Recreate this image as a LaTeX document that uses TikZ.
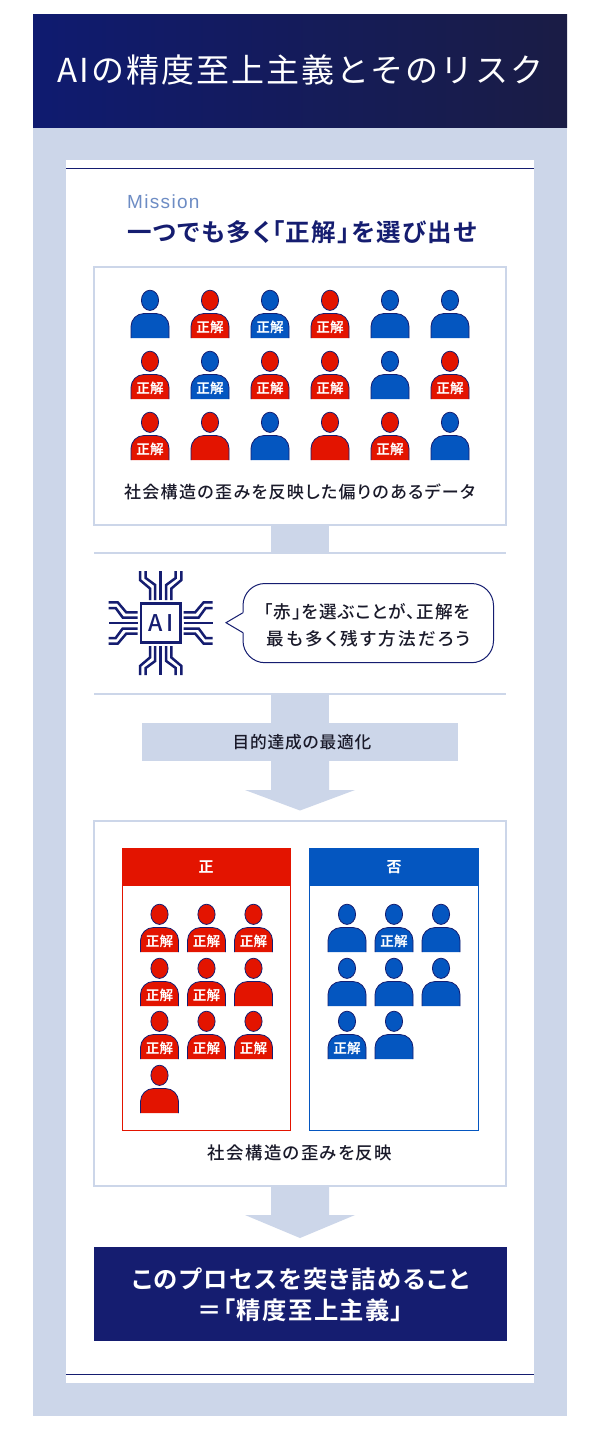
\documentclass[tikz,border=0pt]{standalone}
\usepackage{fontspec}
\setmainfont[BoldFont={Noto Sans CJK JP Bold},RawFeature=+palt]{Noto Sans CJK JP}
\newfontfamily\headf[RawFeature=+palt,LetterSpace=6]{Noto Sans CJK JP Bold}
\newfontfamily\capaf[RawFeature=+palt,LetterSpace=5]{Noto Sans CJK JP Medium}
\newfontfamily\capbf[RawFeature=+palt,LetterSpace=8]{Noto Sans CJK JP Medium}
\newfontfamily\bubf[RawFeature=+palt,LetterSpace=6]{Noto Sans CJK JP Medium}
\newfontfamily\bubwf[RawFeature=+palt,LetterSpace=14]{Noto Sans CJK JP Medium}
\newfontfamily\aif[LetterSpace=14]{Noto Sans CJK JP Medium}
\newfontfamily\latinf[LetterSpace=7]{Liberation Sans}
\newfontfamily\titlef[LetterSpace=6]{Noto Sans CJK JP}
\definecolor{band}{HTML}{CCD6E9}
\definecolor{navy}{HTML}{151D70}
\definecolor{pred}{HTML}{E31400}
\definecolor{pblue}{HTML}{0456C0}
\definecolor{mis}{HTML}{6D8CC4}
\definecolor{ink}{HTML}{1A1A2A}
\definecolor{gradl}{HTML}{0F1B70}
\definecolor{gradr}{HTML}{1A1C45}
\tikzset{x=1pt,y=-1pt,
 panelbox/.style={draw=band,line width=2pt,fill=white},
 capt/.style={text=ink,inner sep=0},
 persontag/.style={font=\fontsize{13.6}{15}\bfseries\selectfont,text=white,inner sep=0},
 trace/.style={draw=navy,line width=2.5pt,line join=miter}}
\newcount\pid
% x, head top y, colour, label
\newcommand\person[4]{%
 \global\advance\pid by 1
 \begin{scope}[shift={(#1,#2)}]
  \draw[navy,line width=.8pt,fill=#3] (0,10.3) ellipse [x radius=8.6,y radius=10.1];
  \fill[#3] (-19,48) -- (-19,36.5) arc[start angle=180,end angle=270,radius=13] -- (6,23.5) arc[start angle=270,end angle=360,radius=13] -- (19,48) -- cycle;
  \draw[navy,line width=.8pt] (-19,48) -- (-19,36.5) arc[start angle=180,end angle=270,radius=13] -- (6,23.5) arc[start angle=270,end angle=360,radius=13] -- (19,48);
  \node[persontag] (tag\the\pid) at (0,37.3) {#4};
 \end{scope}}
\newcommand\ans{正解}
\begin{document}
\begin{tikzpicture}
\useasboundingbox (0,0) rectangle (600,1430);
\fill[white] (0,0) rectangle (600,1430);
% frame
\fill[band] (33,127) rectangle (567,1416);
\shade[left color=gradl,right color=gradr] (33,14) rectangle (567,127);
\node[text=white,inner sep=0,font=\fontsize{33}{36}\selectfont\titlef] (title) at (300.5,70) {AIの精度至上主義とそのリスク};
\fill[white] (66,160) rectangle (534,1383);
\draw[navy,line width=.9pt] (66,168.5) -- (534,168.5);
\draw[navy,line width=.9pt] (66,1374) -- (534,1374);
\node[anchor=west,text=mis,inner sep=0,font=\fontsize{19}{20}\selectfont\latinf] (mission) at (127,202) {Mission};
\node[anchor=west,text=navy,inner sep=0,font=\fontsize{24.5}{26}\selectfont\headf] (head) at (127,232) {一つでも多く「正解」を選び出せ};
% top box
\draw[panelbox] (94,267) rectangle (506,525);
\person{150}{290}{pblue}{}
\person{210}{290}{pred}{\ans}
\person{270}{290}{pblue}{\ans}
\person{330}{290}{pred}{\ans}
\person{390}{290}{pblue}{}
\person{450}{290}{pblue}{}
\person{150}{351}{pred}{\ans}
\person{210}{351}{pblue}{\ans}
\person{270}{351}{pred}{\ans}
\person{330}{351}{pred}{\ans}
\person{390}{351}{pblue}{}
\person{450}{351}{pred}{\ans}
\person{150}{412}{pred}{\ans}
\person{210}{412}{pred}{}
\person{270}{412}{pblue}{}
\person{330}{412}{pred}{}
\person{390}{412}{pred}{\ans}
\person{450}{412}{pblue}{}
\node[capt,font=\fontsize{17}{18}\selectfont\capbf] (cap1) at (299.5,492) {社会構造の歪みを反映した偏りのあるデータ};
% connectors
\fill[band] (271,526) rectangle (329,553);
\draw[band,line width=1.6pt] (94,553) -- (506,553);
\draw[band,line width=1.6pt] (94,694) -- (506,694);
\fill[band] (271,694) rectangle (329,723);
% chip
\draw[navy,line width=2.5pt,fill=white] (141,603.5) rectangle (180.5,642.5);
\node[text=navy,inner sep=0,font=\fontsize{23}{24}\selectfont\aif] (ailabel) at (161,623) {AI};
\foreach \r in {0,90,180,270}{
 \begin{scope}[shift={(160.7,623)},rotate=\r]
  \draw[trace] (0,-23) -- (0,-52);
  \draw[trace] (-5.5,-23) -- (-5.5,-38) -- (-15,-45) -- (-15,-52);
  \draw[trace] (5.5,-23) -- (5.5,-38) -- (15,-45) -- (15,-52);
  \draw[trace] (-10.7,-23) -- (-10.7,-34.5) -- (-20.7,-43) -- (-20.7,-52);
  \draw[trace] (10.7,-23) -- (10.7,-34.5) -- (20.7,-43) -- (20.7,-52);
 \end{scope}}
% bubble
\draw[navy,line width=1pt,fill=white,rounded corners=22pt] (243,612.7) -- (243,583.5) -- (493.5,583.5) -- (493.5,662.7) -- (243,662.7) -- (243,632.7);
\draw[navy,line width=1pt,fill=white,line join=miter] (243,612.7) -- (226,622.7) -- (243,632.7);
\node[capt,font=\fontsize{17.6}{18}\selectfont\bubf] (b1) at (367,612) {「赤」を選ぶことが、正解を};
\node[capt,font=\fontsize{17.6}{18}\selectfont\bubwf] (b2) at (368.5,638.5) {最も多く残す方法だろう};
% goal
\fill[band] (142,723) rectangle (458,761);
\node[capt,font=\fontsize{16.7}{18}\selectfont\capaf] (goal) at (302,742) {目的達成の最適化};
\fill[band] (271,761) -- (329,761) -- (329,790) -- (355,790) -- (300,810.5) -- (245,790) -- (271,790) -- cycle;
% result
\draw[panelbox] (94,821) rectangle (506,1186);
\draw[pred,line width=1pt,fill=white] (122,848.5) rectangle (290.5,1130);
\fill[pred] (122,848.5) rectangle (290.5,886);
\node[persontag,font=\fontsize{15}{17}\bfseries\selectfont] (hy) at (206,867) {正};
\draw[pblue,line width=1pt,fill=white] (309.5,848.5) rectangle (478,1130);
\fill[pblue] (309.5,848.5) rectangle (478,886);
\node[persontag,font=\fontsize{15}{17}\bfseries\selectfont] (hn) at (394,867) {否};
\person{159.5}{904}{pred}{\ans}
\person{206.5}{904}{pred}{\ans}
\person{253.5}{904}{pred}{\ans}
\person{159.5}{958}{pred}{\ans}
\person{206.5}{958}{pred}{\ans}
\person{253.5}{958}{pred}{}
\person{159.5}{1011}{pred}{\ans}
\person{206.5}{1011}{pred}{\ans}
\person{253.5}{1011}{pred}{\ans}
\person{159.5}{1065}{pred}{}
\person{347}{904}{pblue}{}
\person{394}{904}{pblue}{\ans}
\person{441}{904}{pblue}{}
\person{347}{958}{pblue}{}
\person{394}{958}{pblue}{}
\person{441}{958}{pblue}{}
\person{347}{1011}{pblue}{\ans}
\person{394}{1011}{pblue}{}
\node[capt,font=\fontsize{17.4}{18}\selectfont\capbf] (cap2) at (300,1153) {社会構造の歪みを反映};
\fill[band] (271,1187) -- (329,1187) -- (329,1215) -- (355,1215) -- (300,1238) -- (245,1215) -- (271,1215) -- cycle;
% conclusion
\fill[navy] (94,1247) rectangle (506.5,1341);
\node[text=white,inner sep=0,font=\fontsize{24.3}{26}\selectfont\headf] (c1) at (300.5,1279) {このプロセスを突き詰めること};
\node[text=white,inner sep=0,font=\fontsize{24.3}{26}\selectfont\headf] (c2) at (300.5,1310) {＝「精度至上主義」};
\end{tikzpicture}
\end{document}
